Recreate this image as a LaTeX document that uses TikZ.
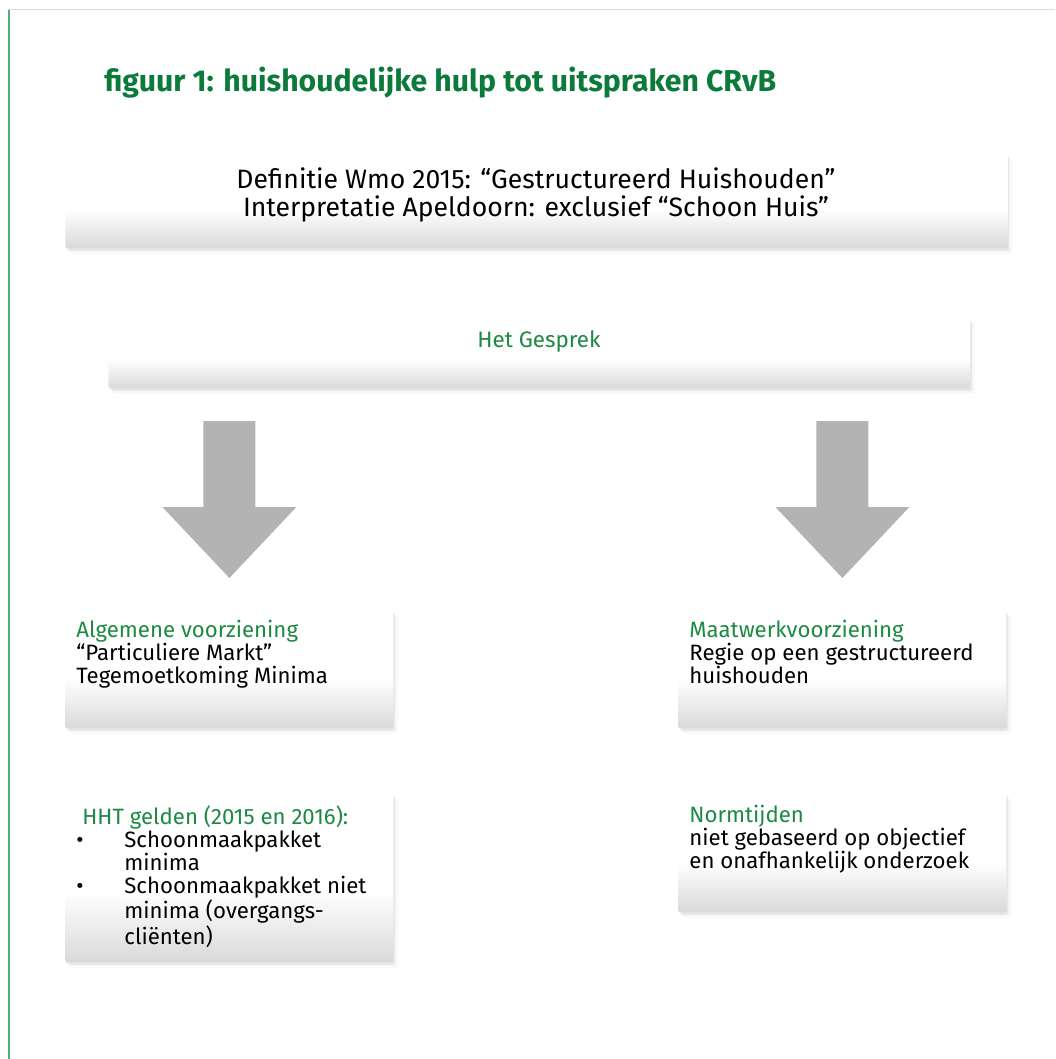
\documentclass[tikz,border=0pt]{standalone}
\usepackage{fontspec}
\setmainfont{Fira Sans}
\usepackage{tikz}
\usetikzlibrary{shadows}
\definecolor{kopgroen}{HTML}{0B7A3B}
\definecolor{tekstgroen}{HTML}{1C8A43}
\definecolor{lijngroen}{HTML}{4DAF7C}
\definecolor{randgrijs}{HTML}{CFE3D6}
\definecolor{pijlgrijs}{HTML}{B3B3B3}
\pgfdeclareverticalshading{blokverloop}{100bp}{color(0bp)=(black!15);
  color(25bp)=(black!15); color(46bp)=(white); color(100bp)=(white)}

\begin{document}
\begin{tikzpicture}[x=0.5pt,y=-0.5pt,
  blok/.style={rectangle,rounded corners=1pt,inner sep=0pt,anchor=north west,
    shading=blokverloop,
    drop shadow={shadow xshift=2.2pt,shadow yshift=-2.6pt,opacity=0.06},
    drop shadow={shadow xshift=0.9pt,shadow yshift=-1.2pt,opacity=0.14}},
  tekst/.style={inner sep=0pt,anchor=north west,align=left,
    font=\fontsize{11.1}{11.5}\selectfont},
  groen/.style={text=tekstgroen}]
  \useasboundingbox (0,0) rectangle (1055,1059);
  \draw[randgrijs,line width=0.8pt] (8,9.5) -- (1055,9.5);
  \draw[lijngroen,line width=1pt] (9,10) -- (9,1059);
  \node[anchor=base west,inner sep=0pt,text=kopgroen,
    font=\bfseries\fontsize{15.1}{17}\selectfont] (titel) at (104,92)
    {figuur 1: huishoudelijke hulp tot uitspraken CRvB};

  \node[blok,minimum width=471pt,minimum height=47.5pt] (def) at (65,153) {};
  \node[blok,minimum width=431pt,minimum height=35pt] (gesprek) at (108,318) {};
  \node[blok,minimum width=164pt,minimum height=59pt] (alg) at (65,610) {};
  \node[blok,minimum width=164pt,minimum height=59pt] (maat) at (678,610) {};
  \node[blok,minimum width=164pt,minimum height=84.5pt] (hht) at (65,793) {};
  \node[blok,minimum width=164pt,minimum height=59.5pt] (norm) at (678,793) {};

  \node[inner sep=0pt,anchor=north,align=center,
    font=\fontsize{13.3}{14}\selectfont] (deftekst) at (536,167)
    {Definitie Wmo 2015: ``Gestructureerd Huishouden''\\
     Interpretatie Apeldoorn: exclusief ``Schoon Huis''};
  \node[inner sep=0pt,anchor=north,groen,font=\fontsize{11.2}{11.5}\selectfont]
    (gesprektekst) at (539,330) {Het Gesprek};

  \node[tekst] (algtekst) at (76,620)
    {\textcolor{tekstgroen}{Algemene voorziening}\\
     ``Particuliere Markt''\\
     Tegemoetkoming Minima};
  \node[tekst] (maattekst) at (689,620)
    {\textcolor{tekstgroen}{Maatwerkvoorziening}\\
     Regie op een gestructureerd\\
     huishouden};
  \node[tekst] (hhttekst) at (76,805)
    {\hspace*{3pt}\textcolor{tekstgroen}{HHT gelden (2015 en 2016):}\\
     \makebox[24pt][l]{\textbullet}Schoonmaakpakket\\
     \hspace*{24pt}minima\\
     \makebox[24pt][l]{\textbullet}Schoonmaakpakket niet\\
     \hspace*{24pt}minima (overgangs-\\
     \hspace*{24pt}cliënten)};
  \node[tekst] (normtekst) at (689,805)
    {\textcolor{tekstgroen}{Normtijden}\\
     niet gebaseerd op objectief\\
     en onafhankelijk onderzoek};

  \foreach \doel in {alg,maat}
    \fill[pijlgrijs] ([xshift=-13pt,yshift=94.5pt]\doel.north)
      -- ([xshift=13pt,yshift=94.5pt]\doel.north)
      -- ([xshift=13pt,yshift=51.5pt]\doel.north)
      -- ([xshift=33.5pt,yshift=51.5pt]\doel.north)
      -- ([yshift=16pt]\doel.north)
      -- ([xshift=-33.5pt,yshift=51.5pt]\doel.north)
      -- ([xshift=-13pt,yshift=51.5pt]\doel.north) -- cycle;
\end{tikzpicture}
\end{document}
